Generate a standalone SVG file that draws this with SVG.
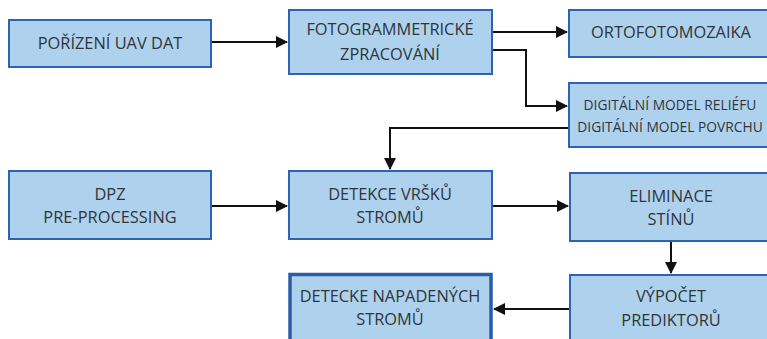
<svg xmlns="http://www.w3.org/2000/svg" width="767" height="339" viewBox="0 0 767 339">
<defs>
<marker id="ah" markerWidth="12" markerHeight="12" refX="11" refY="6" orient="auto" markerUnits="userSpaceOnUse">
<path d="M0,0 L12,6 L0,12 Z" fill="#111"/>
</marker>
<style>
.box{fill:#aed2ee;stroke:#2e63b1;stroke-width:2}
.thick{stroke-width:3.5;stroke:#2a5ca8}
.t{font-family:"Open Sans","Liberation Sans",sans-serif;font-size:16.4px;fill:#30353a;text-anchor:middle}
.s{font-size:13.8px}
.c{fill:none;stroke:#111;stroke-width:2}
</style>
</defs>
<rect width="767" height="339" fill="#fff"/>
<g id="connectors">
<path class="c" d="M211,42 H287" marker-end="url(#ah)"/>
<path class="c" d="M492,32 H567" marker-end="url(#ah)"/>
<path class="c" d="M492,50 H526 V106 H567" marker-end="url(#ah)"/>
<path class="c" d="M569,128 H390 V169" marker-end="url(#ah)"/>
<path class="c" d="M211,206 H287" marker-end="url(#ah)"/>
<path class="c" d="M492,206 H568" marker-end="url(#ah)"/>
<path class="c" d="M671,241 V273" marker-end="url(#ah)"/>
<path class="c" d="M570,309 H494" marker-end="url(#ah)"/>
</g>
<g id="n1"><rect class="box" x="9" y="20" width="202" height="47"/><text class="t" x="110" y="49">POŘÍZENÍ UAV DAT</text></g>
<g id="n2"><rect class="box" x="289" y="10" width="203" height="64"/><text class="t" x="390" y="35">FOTOGRAMMETRICKÉ</text><text class="t" x="390" y="60">ZPRACOVÁNÍ</text></g>
<g id="n3"><rect class="box" x="569" y="10" width="204" height="47"/><text class="t" x="671" y="38">ORTOFOTOMOZAIKA</text></g>
<g id="n4"><rect class="box" x="569" y="83" width="204" height="64"/><text class="t s" x="670" y="110">DIGITÁLNÍ MODEL RELIÉFU</text><text class="t s" x="670" y="132">DIGITÁLNÍ MODEL POVRCHU</text></g>
<g id="n5"><rect class="box" x="9" y="171" width="202" height="68"/><text class="t" x="110" y="200">DPZ</text><text class="t" x="110" y="223">PRE-PROCESSING</text></g>
<g id="n6"><rect class="box" x="289" y="171" width="203" height="68"/><text class="t" x="390" y="200">DETEKCE VRŠKŮ</text><text class="t" x="390" y="223">STROMŮ</text></g>
<g id="n7"><rect class="box" x="570" y="173" width="204" height="68"/><text class="t" x="671" y="202">ELIMINACE</text><text class="t" x="671" y="225">STÍNŮ</text></g>
<g id="n8"><rect class="box" x="570" y="275" width="204" height="70"/><text class="t" x="671" y="302">VÝPOČET</text><text class="t" x="671" y="326">PREDIKTORŮ</text></g>
<g id="n9"><rect class="box thick" x="290" y="274.5" width="201" height="70"/><text class="t" x="390" y="302">DETECKE NAPADENÝCH</text><text class="t" x="390" y="325">STROMŮ</text></g>
</svg>
